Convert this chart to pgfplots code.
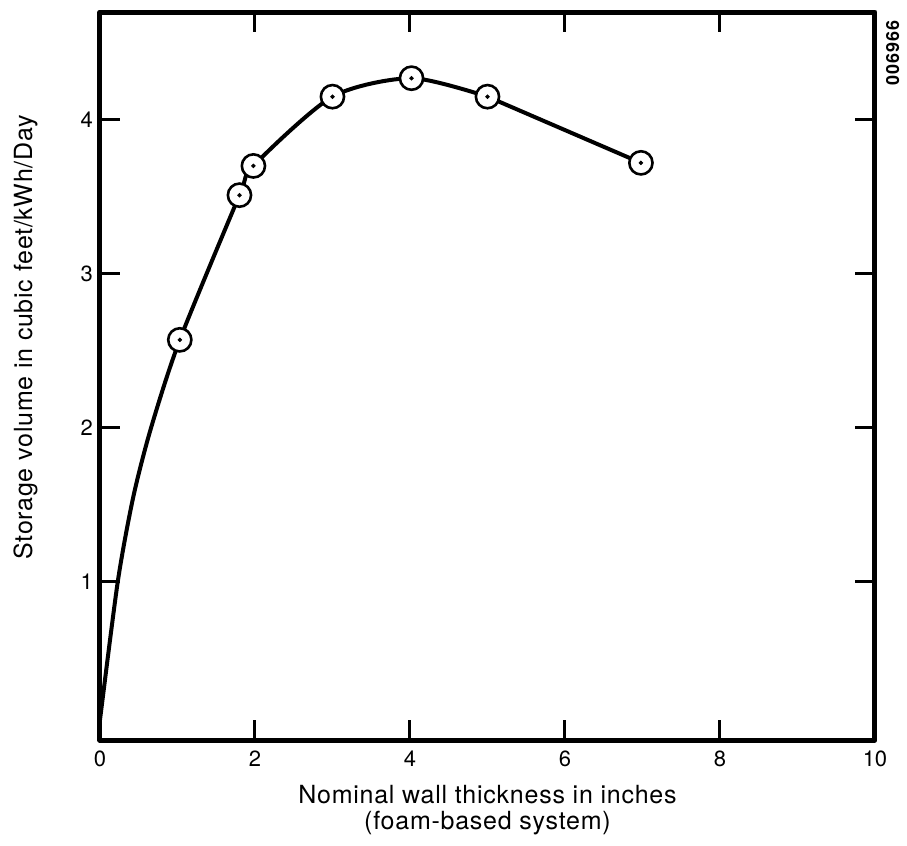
\documentclass[border=0pt]{standalone}
\usepackage{fontspec}
\setmainfont{TeX Gyre Heros}
\usepackage{pgfplots}
\pgfplotsset{compat=1.18}
\usepackage{pgfplotstable}

% measured points (wall thickness, storage volume)
\pgfplotstableread{
x    y
1.03 2.57
1.80 3.51
1.98 3.70
3.00 4.15
4.02 4.27
5.00 4.15
6.98 3.72
}\points

% curve drawn through the points, starting at the origin
\pgfplotstableread{
x    y
0.00 0.10
0.23 1.00
0.43 1.55
0.66 2.00
1.03 2.57
1.80 3.51
1.98 3.70
3.00 4.15
4.02 4.27
5.00 4.15
}\curve

\begin{document}
\begin{tikzpicture}
\begin{axis}[
    scale only axis,
    width=387.5pt,
    height=364pt,
    xmin=0, xmax=10,
    ymin=-0.03, ymax=4.7,
    xtick={0,2,4,6,8,10},
    ytick={1,2,3,4},
    tick align=inside,
    xtick pos=both,
    ytick pos=both,
    major tick length=10pt,
    tick style={line width=1.5pt, black},
    axis line style={line width=2.5pt, line join=round},
    every tick label/.append style={font=\fontsize{11}{12}\selectfont},
    xticklabel style={yshift=-2pt},
    /pgf/number format/assume math mode=true,
    label style={font=\fontsize{12.5}{13}\selectfont\addfontfeature{LetterSpace=3}},
    xlabel={Nominal wall thickness in inches\\(foam-based system)},
    xlabel style={align=center, at={(axis description cs:0.5,-0.096)}, anchor=center},
    ylabel={Storage volume in cubic feet/kWh/Day},
    ylabel style={at={(axis description cs:-0.096,0.553)}, anchor=center, rotate=0},
    clip=false,
]
\addplot[line width=2pt, black, smooth, tension=0.45, no marks] table[x=x, y=y] {\curve};
\addplot[line width=2pt, black, sharp plot, no marks] coordinates {(5.00,4.15) (6.98,3.72)};
\addplot[only marks, mark=*, mark size=5.8pt,
    mark options={fill=white, draw=black, line width=1.3pt}] table[x=x, y=y] {\points};
\addplot[only marks, mark=*, mark size=0.9pt, black] table[x=x, y=y] {\points};
\node[rotate=90, font=\fontsize{9}{10}\selectfont\bfseries\addfontfeature{LetterSpace=5}]
    at (rel axis cs:1.023,0.944) {006966};
\coordinate (bbll) at (rel axis cs:-0.129,-0.1442);
\coordinate (bbur) at (rel axis cs:1.0413,1.0165);
\end{axis}
\pgfresetboundingbox
\path[use as bounding box] (bbll) rectangle (bbur);
\end{tikzpicture}
\end{document}
